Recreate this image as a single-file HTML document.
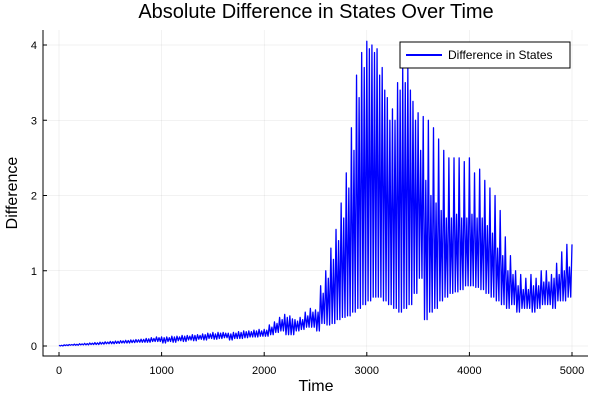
<!DOCTYPE html>
<html><head><meta charset="utf-8"><style>
body{margin:0;background:#fff;}
svg{display:block;font-family:"Liberation Sans","DejaVu Sans",sans-serif;}
</style></head><body>
<svg id="chart" width="600" height="400">
<text x="316" y="18" text-anchor="middle" font-size="20" fill="#000">Absolute Difference in States Over Time</text>
<g id="grid"></g>
<g id="series"></g>
<g id="axes"></g>
<text x="316" y="391" text-anchor="middle" font-size="16">Time</text>
<text x="17" y="193" text-anchor="middle" font-size="16" transform="rotate(-90 17 193)">Difference</text>
<g>
<rect x="400" y="42" width="170" height="26" fill="#fff" stroke="#000" stroke-width="1"/>
<line x1="406" y1="55" x2="442" y2="55" stroke="#0000ff" stroke-width="2"/>
<text x="448" y="59" font-size="12">Difference in States</text>
</g>
</svg>
<script>
const xTicks=[0,1000,2000,3000,4000,5000];
const yTicks=[0,1,2,3,4];
const times=[];for(let i=0;i<=100;i++)times.push(i*50);
const highs=[0.01,0.015,0.02,0.025,0.03,0.035,0.04,0.045,0.05,0.055,0.06,0.065,0.07,0.075,0.08,0.085,0.09,0.1,0.11,0.12,0.12,
0.12,0.13,0.13,0.14,0.14,0.15,0.15,0.16,0.17,0.18,0.18,0.18,0.17,0.18,0.19,0.2,0.2,0.21,0.22,0.22,
0.28,0.32,0.38,0.42,0.4,0.35,0.38,0.45,0.5,0.48,0.8,1.0,1.3,1.55,1.9,2.3,2.9,3.6,3.9,4.05,
4.0,3.95,3.7,3.3,3.15,3.5,3.7,3.7,3.25,3.1,3.05,3.0,2.9,2.75,2.6,2.5,2.5,2.5,2.45,2.5,
2.3,2.35,2.2,2.1,2.0,1.8,1.45,1.2,1.0,0.95,0.9,0.95,0.9,1.0,1.0,0.95,1.1,1.25,1.35,1.35];
const mids=[0.01,0.015,0.02,0.022,0.028,0.032,0.038,0.042,0.048,0.052,0.058,0.062,0.068,0.072,0.078,0.082,0.088,0.095,0.1,0.11,0.11,
0.11,0.12,0.12,0.13,0.13,0.14,0.14,0.15,0.16,0.16,0.17,0.17,0.16,0.17,0.18,0.19,0.19,0.2,0.2,0.21,
0.25,0.3,0.35,0.38,0.36,0.33,0.35,0.4,0.45,0.45,0.7,0.9,1.15,1.4,1.7,2.1,2.6,3.3,3.7,3.95,
3.9,3.6,3.4,3.0,3.0,3.4,3.5,3.4,3.0,2.6,2.2,2.0,1.9,1.8,1.7,1.7,1.75,1.7,1.7,1.75,
1.7,1.7,1.6,1.5,1.3,1.2,1.0,0.95,0.8,0.75,0.75,0.8,0.8,0.85,0.85,0.9,0.95,1.0,1.05,1.1];
const lows=[0,0.005,0.01,0.01,0.015,0.015,0.02,0.02,0.025,0.03,0.03,0.035,0.04,0.04,0.045,0.05,0.05,0.05,0.06,0.06,0.04,
0.06,0.05,0.07,0.06,0.08,0.07,0.09,0.08,0.1,0.09,0.1,0.11,0.08,0.1,0.1,0.11,0.12,0.12,0.13,0.13,
0.15,0.18,0.2,0.15,0.15,0.2,0.22,0.25,0.25,0.2,0.3,0.28,0.3,0.35,0.38,0.4,0.45,0.5,0.55,0.6,
0.65,0.65,0.6,0.55,0.5,0.45,0.5,0.55,0.7,0.9,0.35,0.45,0.5,0.6,0.65,0.7,0.72,0.75,0.8,0.8,
0.78,0.75,0.7,0.65,0.6,0.55,0.5,0.55,0.45,0.5,0.5,0.45,0.5,0.55,0.55,0.5,0.6,0.6,0.65,0.6];
const NS="http://www.w3.org/2000/svg";
const X=t=>59+t*0.1026;
const Y=v=>346-v*75.25;
const L=43,B=356,R=588,T=30;
const grid=document.getElementById('grid'),axes=document.getElementById('axes'),series=document.getElementById('series');
function mk(tag,attrs,parent){const e=document.createElementNS(NS,tag);for(const k in attrs)e.setAttribute(k,attrs[k]);parent.appendChild(e);return e;}
xTicks.forEach(t=>{
 const g=mk('line',{x1:X(t),x2:X(t),y1:T,y2:B,stroke:'#000','stroke-opacity':0.1,'stroke-width':0.5},grid);
 
 
 const tk=mk('line',{x1:X(t),x2:X(t),y1:B,y2:B-4,stroke:'#000'},axes);
 
 
 const tx=mk('text',{x:X(t),y:374,'text-anchor':'middle','font-size':11},axes);
 tx.textContent=t;
 
 
});
yTicks.forEach(v=>{
 const g=mk('line',{x1:L,x2:R,y1:Y(v),y2:Y(v),stroke:'#000','stroke-opacity':0.1,'stroke-width':0.5},grid);
 
 
 const tk=mk('line',{x1:L,x2:L+4,y1:Y(v),y2:Y(v),stroke:'#000'},axes);
 
 
 const tx=mk('text',{x:37,y:Y(v)+4,'text-anchor':'end','font-size':11},axes);
 tx.textContent=v;
 
 
});
const ax=mk('path',{d:`M${L},${T} L${L},${B} L${R},${B}`,fill:'none',stroke:'#000','stroke-width':1},axes);


let d='';
for(let i=0;i<times.length;i++){
 d+=(i?'L':'M')+X(times[i]).toFixed(2)+','+Y(highs[i]).toFixed(2);
 if(i<times.length-1){
  d+='L'+X(times[i]+12.5).toFixed(2)+','+Y(lows[i]).toFixed(2);
  d+='L'+X(times[i]+25).toFixed(2)+','+Y(mids[i]).toFixed(2);
  d+='L'+X(times[i]+37.5).toFixed(2)+','+Y(lows[i]).toFixed(2);
 }
}
const p=mk('path',{d:d,fill:'none',stroke:'#0000ff','stroke-width':1.3,'stroke-linejoin':'round'},series);


</script>
</body></html>
